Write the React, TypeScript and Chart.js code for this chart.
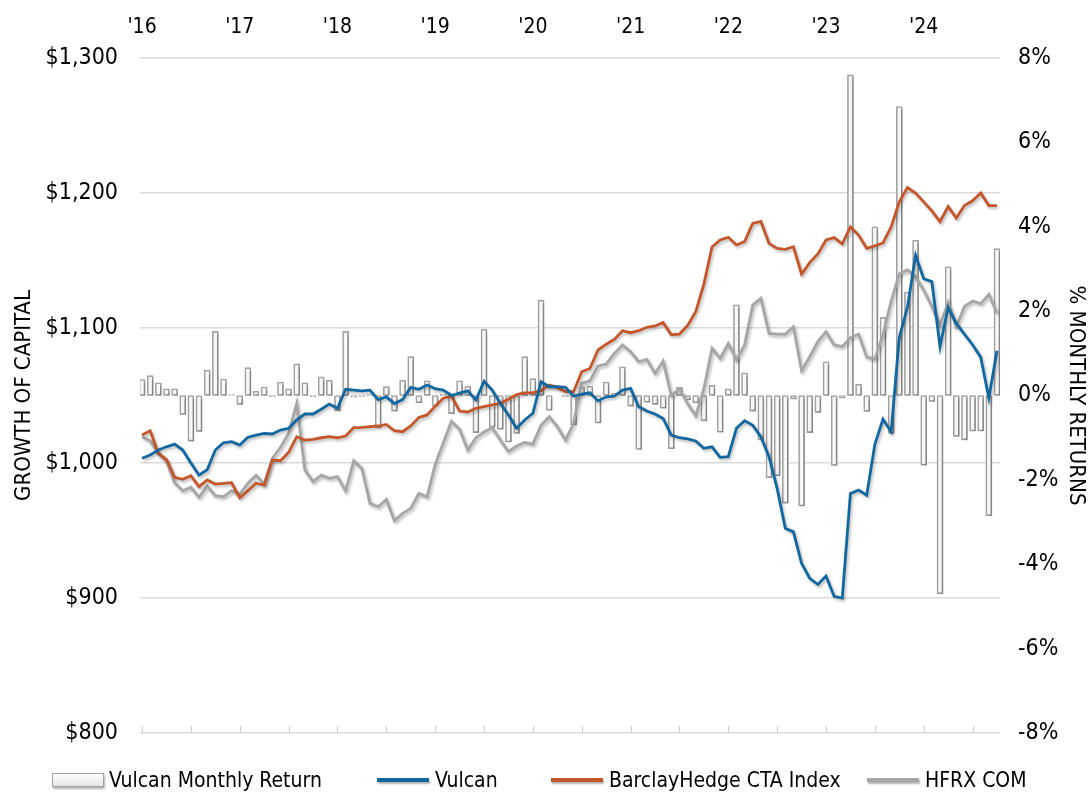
import React, { useEffect, useRef } from "react";
import { Chart, registerables } from "chart.js";

Chart.register(...registerables);

const FONT = "'DejaVu Sans Condensed', 'DejaVu Sans', sans-serif";

// ---- categories ----
const years = ["2016", "2017", "2018", "2019", "2020", "2021", "2022", "2023", "2024"];
const monthNames = ["Jan", "Feb", "Mar", "Apr", "May", "Jun", "Jul", "Aug", "Sep", "Oct", "Nov", "Dec"];

// ---- tick labels ----
const yearTickLabels = ["'16", "'17", "'18", "'19", "'20", "'21", "'22", "'23", "'24"];
const yearTickIndex = [0, 12, 24, 36, 48, 60, 72, 84, 96];
const halfYearTickIndex = [0, 6, 12, 18, 24, 30, 36, 42, 48, 54, 60, 66, 72, 78, 84, 90, 96, 102];
const leftTickValues = [800, 900, 1000, 1100, 1200, 1300];
const leftTickLabels = ["$800", "$900", "$1,000", "$1,100", "$1,200", "$1,300"];
const rightTickValues = [-8, -6, -4, -2, 0, 2, 4, 6, 8];
const rightTickLabels = ["-8%", "-6%", "-4%", "-2%", "0%", "2%", "4%", "6%", "8%"];

// ---- series (monthly, Jan-16 .. Oct-24) ----
const vulcanMonthlyReturn = [
  0.38, 0.47, 0.30, 0.16, 0.16, -0.45, -1.08, -0.85, 0.60, 1.52, 0.39, 0.02,
  -0.21, 0.66, 0.10, 0.20, -0.03, 0.32, 0.16, 0.75, 0.30, -0.03, 0.44, 0.36,
  -0.36, 1.52, -0.04, -0.02, 0.02, -0.77, 0.21, -0.37, 0.36, 0.92, -0.17, 0.35,
  -0.25, 0.03, -0.43, 0.35, 0.22, -0.88, 1.57, -0.75, -0.80, -1.10, -0.90, 0.92,
  0.40, 2.26, -0.35, 0.00, -0.03, -0.69, 0.20, 0.22, -0.65, 0.32, 0.06, 0.68,
  -0.25, -1.28, -0.16, -0.21, -0.30, -1.26, 0.20, -0.10, -0.17, -0.60, 0.24, -0.87,
  0.16, 2.15, 0.54, -0.37, -1.05, -1.95, -1.90, -2.55, -0.08, -2.62, -0.88, -0.40,
  0.80, -1.66, -0.06, 7.60, 0.27, -0.38, 4.00, 1.85, -0.90, 6.85, 2.45, 3.68,
  -1.65, -0.14, -4.70, 3.05, -0.97, -1.05, -0.84, -0.84, -2.85, 3.48,
];

const vulcan = [
  1003.5, 1005.9, 1009.6, 1012, 1014, 1009.6, 1000, 991, 995, 1009.6, 1015, 1015.8,
  1013.3, 1019, 1020.7, 1022, 1021.5, 1024.4, 1025.7, 1031.9, 1036.3, 1036.3, 1039.8, 1043.7,
  1040.5, 1054.6, 1054, 1053.5, 1054, 1047, 1049, 1044, 1047, 1056, 1054.6, 1057.8,
  1055, 1054, 1050, 1051.8, 1053.4, 1046.7, 1060.5, 1054, 1044.2, 1035.6, 1025.7, 1031.9,
  1036.8, 1060.2, 1056.5, 1056.5, 1056, 1049.6, 1051, 1052, 1046, 1049, 1049.6, 1054,
  1055.3, 1041.7, 1038.5, 1036.3, 1033, 1020.7, 1018.7, 1017.8, 1016.3, 1010.9, 1012, 1004.2,
  1004.7, 1025.7, 1031.4, 1028, 1019.5, 1004.7, 981.2, 951.6, 949, 925.7, 914.6, 910,
  916.3, 901.2, 900, 977.4, 979.9, 976.2, 1013.9, 1032.4, 1023.2, 1092.9, 1115.3, 1153.7,
  1136.5, 1134.4, 1086.3, 1115.3, 1103.4, 1095.5, 1087.6, 1078.4, 1048.2, 1083.2,
];

const barclayHedgeCTA = [
  1020.7, 1023.9, 1007.2, 1002.7, 989.4, 987.9, 990.6, 982.5, 987.4, 984.4, 984.9, 985.4,
  974.3, 979.5, 985, 983.7, 1002.2, 1001.7, 1007.9, 1019.5, 1017, 1017.5, 1018.7, 1019.5,
  1018.7, 1020, 1026.2, 1026.4, 1026.9, 1027.4, 1028.6, 1023.9, 1023.2, 1027.4, 1033.8, 1035.6,
  1042, 1048, 1049.5, 1038.5, 1037.8, 1040.5, 1041.7, 1043, 1044.2, 1047.2, 1050.6, 1051.9,
  1052.1, 1053.6, 1057.8, 1056, 1052.8, 1052.8, 1067.6, 1070, 1083.7, 1088, 1091.6, 1098,
  1096.5, 1098, 1100.5, 1101.5, 1104, 1095, 1095.5, 1101.8, 1112, 1132.5, 1160, 1165.2,
  1167.2, 1161.5, 1164, 1177.5, 1179, 1162.7, 1159, 1158.3, 1160.2, 1140, 1148.4, 1154.8,
  1165.2, 1167, 1162.4, 1174.9, 1168.8, 1159, 1160.8, 1163, 1174.9, 1193.4, 1204, 1200,
  1193.4, 1186.8, 1178.8, 1190, 1181.5, 1190.7, 1194.2, 1200, 1190.7, 1190.7,
];

const hfrxCom = [
  1019.5, 1016.5, 1007.2, 1001.7, 985.4, 979.5, 982, 974.6, 983, 975.8, 975, 979.5,
  976.8, 985, 991, 984.4, 1003.5, 1011.6, 1022, 1044.2, 994.8, 986.2, 991, 988.6,
  989.9, 979.3, 1001.7, 996, 970.1, 967.6, 973, 957.3, 962.7, 966.4, 977.5, 975,
  999, 1015, 1031, 1025, 1009.6, 1018.8, 1023, 1026.2, 1017, 1008.4, 1012.6, 1015.3,
  1014, 1028, 1034.3, 1026.9, 1017, 1029.4, 1059, 1061, 1071.9, 1073.3, 1081.2, 1087.4,
  1082.5, 1075, 1076.8, 1066.4, 1075.5, 1050, 1055, 1044, 1035, 1055, 1085, 1077.5,
  1088.5, 1076.3, 1087.4, 1117, 1122, 1096, 1095.5, 1095.5, 1101, 1068.4, 1078.7, 1089.9,
  1097.3, 1087.5, 1086.3, 1092.9, 1095.5, 1078.4, 1077.1, 1095, 1120, 1140, 1143, 1138,
  1128, 1116, 1102, 1119, 1101, 1116, 1120, 1118, 1125, 1111,
];

const months: string[] = [];
years.forEach((y) => monthNames.forEach((m) => months.push(`${m}-${y.slice(2)}`)));
const categories = months.slice(0, vulcan.length);

const COLORS = {
  bar: "#a3a3a3",
  barFill: "#f7f7f7",
  vulcan: "#11679f",
  barclay: "#c5562a",
  hfrx: "#a6a6a6",
  grid: "#dadada",
};

const shadowPlugin = {
  id: "softShadow",
  beforeDatasetDraw(chart: any) {
    const ctx = chart.ctx;
    ctx.save();
    ctx.shadowColor = "rgba(0,0,0,0.28)";
    ctx.shadowBlur = 3;
    ctx.shadowOffsetX = 1.5;
    ctx.shadowOffsetY = 2;
  },
  afterDatasetDraw(chart: any) {
    chart.ctx.restore();
  },
};

const bottomTicksPlugin = {
  id: "bottomTicks",
  beforeDatasetsDraw(chart: any) {
    const { ctx, chartArea, scales } = chart;
    ctx.save();
    ctx.strokeStyle = "#cfcfcf";
    ctx.lineWidth = 1;
    halfYearTickIndex.forEach((v) => {
      const x = Math.round(scales.x.getPixelForValue(v)) + 0.5;
      ctx.beginPath();
      ctx.moveTo(x, chartArea.bottom);
      ctx.lineTo(x, chartArea.bottom - 7);
      ctx.stroke();
    });
    ctx.restore();
  },
};

const legendItems = [
  { label: "Vulcan Monthly Return", kind: "box", color: COLORS.bar, left: 52 },
  { label: "Vulcan", kind: "line", color: COLORS.vulcan, left: 377 },
  { label: "BarclayHedge CTA Index", kind: "line", color: COLORS.barclay, left: 551 },
  { label: "HFRX COM", kind: "line", color: COLORS.hfrx, left: 867 },
];

export default function App() {
  const canvasRef = useRef<HTMLCanvasElement | null>(null);

  useEffect(() => {
    if (!canvasRef.current) return;
    const toXY = (arr: number[]) => arr.map((v, i) => ({ x: i, y: v }));
    const chart = new Chart(canvasRef.current, {
      type: "bar",
      data: {
        labels: categories,
        datasets: [
          {
            type: "line",
            label: "Vulcan",
            data: toXY(vulcan),
            yAxisID: "y",
            borderColor: COLORS.vulcan,
            borderWidth: 2.8,
            pointRadius: 0,
            tension: 0,
            order: 1,
          } as any,
          {
            type: "line",
            label: "BarclayHedge CTA Index",
            data: toXY(barclayHedgeCTA),
            yAxisID: "y",
            borderColor: COLORS.barclay,
            borderWidth: 2.8,
            pointRadius: 0,
            tension: 0,
            order: 2,
          } as any,
          {
            type: "line",
            label: "HFRX COM",
            data: toXY(hfrxCom),
            yAxisID: "y",
            borderColor: COLORS.hfrx,
            borderWidth: 2.8,
            pointRadius: 0,
            tension: 0,
            order: 3,
          } as any,
          {
            type: "bar",
            label: "Vulcan Monthly Return",
            data: toXY(vulcanMonthlyReturn),
            yAxisID: "y1",
            borderColor: COLORS.bar,
            backgroundColor: COLORS.barFill,
            borderWidth: 1.6,
            borderSkipped: false,
            barThickness: 6,
            order: 10,
          } as any,
        ],
      },
      options: {
        responsive: false,
        animation: false,
        devicePixelRatio: 1,
        layout: { padding: { left: 0, right: 0, top: 0, bottom: 63 } },
        plugins: {
          legend: { display: false },
          tooltip: { enabled: false },
        },
        scales: {
          x: {
            type: "linear",
            position: "top",
            offset: false,
            min: -0.25,
            max: 105.37,
            afterBuildTicks: (s: any) => {
              s.ticks = yearTickIndex.map((value) => ({ value }));
            },
            afterFit: (s: any) => {
              s.height = 58;
            },
            ticks: {
              autoSkip: false,
              maxRotation: 0,
              padding: 18,
              color: "#000",
              font: { family: FONT, size: 21 },
              callback: (v: any) => {
                const k = yearTickIndex.indexOf(Number(v));
                return k >= 0 ? yearTickLabels[k] : "";
              },
            },
            grid: { display: false, drawTicks: false, offset: false },
            border: { display: false },
          },
          y: {
            type: "linear",
            position: "left",
            min: 800,
            max: 1300,
            afterBuildTicks: (s: any) => {
              s.ticks = leftTickValues.map((value) => ({ value }));
            },
            afterFit: (s: any) => {
              s.width = 140;
            },
            ticks: {
              padding: 22,
              color: "#000",
              font: { family: FONT, size: 23 },
              callback: (v: any) => {
                const k = leftTickValues.indexOf(Number(v));
                return k >= 0 ? leftTickLabels[k] : "";
              },
            },
            grid: { color: COLORS.grid, lineWidth: 1.6, drawTicks: false },
            border: { display: false },
            title: {
              display: true,
              text: "GROWTH OF CAPITAL",
              color: "#000",
              font: { family: FONT, size: 22 },
              padding: { top: 11, bottom: 0 },
            },
          },
          y1: {
            type: "linear",
            position: "right",
            min: -8,
            max: 8,
            afterBuildTicks: (s: any) => {
              s.ticks = rightTickValues.map((value) => ({ value }));
            },
            afterFit: (s: any) => {
              s.width = 89;
            },
            ticks: {
              padding: 18,
              color: "#000",
              font: { family: FONT, size: 23 },
              callback: (v: any) => {
                const k = rightTickValues.indexOf(Number(v));
                return k >= 0 ? rightTickLabels[k] : "";
              },
            },
            grid: { display: false, drawTicks: false },
            border: { display: false },
            title: {
              display: true,
              text: "% MONTHLY RETURNS",
              color: "#000",
              font: { family: FONT, size: 22 },
              padding: { top: 0, bottom: 0 },
            },
          },
        },
      } as any,
      plugins: [shadowPlugin, bottomTicksPlugin],
    });
    return () => chart.destroy();
  }, []);

  return (
    <div
      style={{
        position: "absolute",
        left: 0,
        top: 0,
        width: 1089,
        height: 796,
        background: "#fff",
        overflow: "hidden",
      }}
    >
      <canvas ref={canvasRef} width={1089} height={796} style={{ display: "block" }} />
      <div
        style={{
          position: "absolute",
          left: 0,
          top: 766,
          width: 1089,
          height: 28,
          fontFamily: FONT,
          fontSize: 21,
          color: "#000",
        }}
      >
        {legendItems.map((it) => (
          <div
            key={it.label}
            style={{
              position: "absolute",
              left: it.left,
              top: 0,
              height: 28,
              display: "flex",
              alignItems: "center",
              whiteSpace: "nowrap",
            }}
          >
            {it.kind === "box" ? (
              <span
                style={{
                  display: "inline-block",
                  width: 50,
                  height: 12,
                  border: `1.5px solid ${it.color}`,
                  background: "linear-gradient(#ffffff, #e6e6e6)",
                  boxShadow: "1px 2px 2px rgba(0,0,0,0.3)",
                  marginRight: 5,
                }}
              />
            ) : (
              <span
                style={{
                  display: "inline-block",
                  width: 52,
                  height: 4,
                  background: it.color,
                  boxShadow: "1px 2px 2px rgba(0,0,0,0.3)",
                  marginRight: 6,
                }}
              />
            )}
            <span>{it.label}</span>
          </div>
        ))}
      </div>
    </div>
  );
}
